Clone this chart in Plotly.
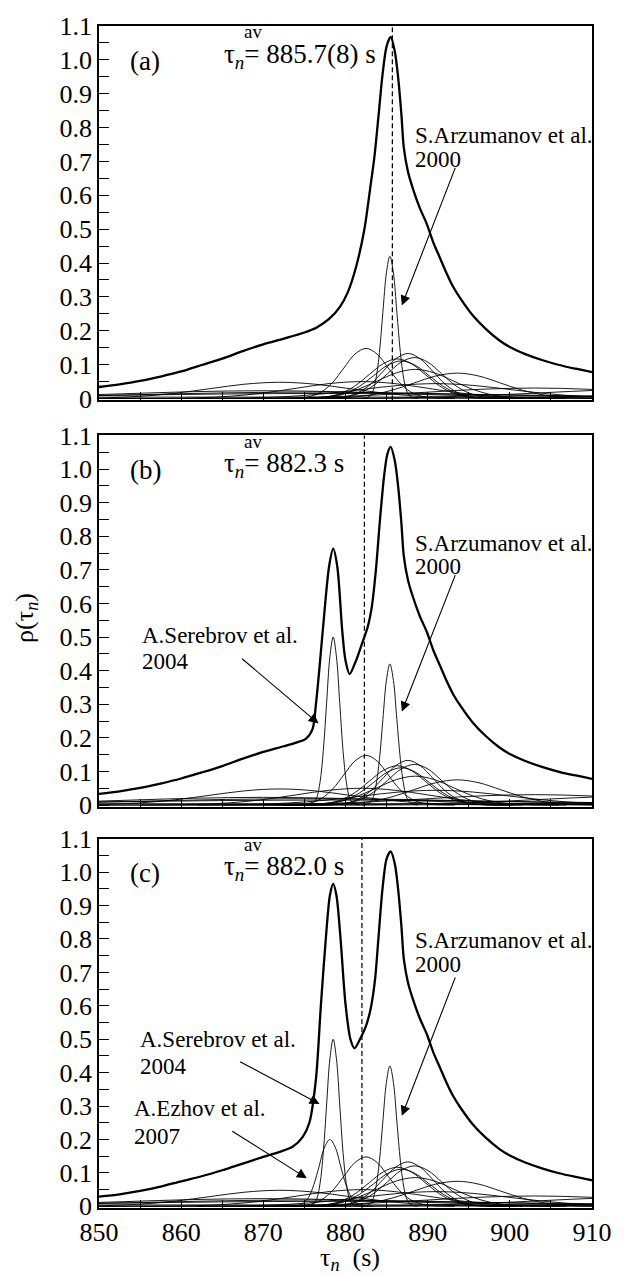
import plotly.graph_objects as go

# ---------------- data ----------------
x_tickvals = [850, 855, 860, 865, 870, 875, 880, 885, 890, 895, 900, 905, 910]
x_ticktext = ["850", "", "860", "", "870", "", "880", "", "890", "", "900", "", "910"]
y_tickvals = [0, 0.05, 0.1, 0.15, 0.2, 0.25, 0.3, 0.35, 0.4, 0.45, 0.5, 0.55,
              0.6, 0.65, 0.7, 0.75, 0.8, 0.85, 0.9, 0.95, 1.0, 1.05, 1.1]
y_ticktext = ["0", "", "0.1", "", "0.2", "", "0.3", "", "0.4", "", "0.5", "",
              "0.6", "", "0.7", "", "0.8", "", "0.9", "", "1.0", "", "1.1"]

panel_labels = ["(a)", "(b)", "(c)"]
tau_av = [885.7, 882.3, 882.0]
tau_av_text = ["885.7(8) s", "882.3 s", "882.0 s"]

# thick (summed) curves
sum_right_x = [886.0, 886.4, 886.8, 887.1, 887.6, 888.2, 889.0, 889.9, 890.7, 891.5, 892.3,
               893.1, 894.0, 895.5, 897.0, 898.7, 900.0, 901.8, 904.0, 906.0, 908.0, 910.0]
sum_right_y = [1.025, 0.95, 0.84, 0.74, 0.67, 0.62, 0.565, 0.515, 0.46, 0.415, 0.37,
               0.33, 0.295, 0.245, 0.207, 0.172, 0.152, 0.132, 0.113, 0.099, 0.088, 0.078]

sum_a_x = [850, 852.5, 855, 857.5, 860, 862.5, 865, 867.5, 870, 872.5, 875, 876.5, 878,
           879.3, 880.3, 881.3, 882.3, 883.0, 883.5, 884.0, 884.5, 885.0, 885.5]
sum_a_y = [0.034, 0.042, 0.052, 0.065, 0.080, 0.099, 0.118, 0.140, 0.160, 0.177, 0.195, 0.210, 0.235,
           0.270, 0.315, 0.390, 0.500, 0.620, 0.710, 0.830, 0.955, 1.040, 1.068]

sum_b_x = [850, 852.5, 855, 857.5, 860, 862.5, 865, 867.5, 870, 872.5, 874, 875.2, 876.0, 876.4,
           876.8, 877.4, 878.0, 878.5, 879.0, 879.6, 880.0, 880.5, 881.2, 882.0, 882.7, 883.2,
           883.7, 884.2, 884.7, 885.1, 885.5]
sum_b_y = [0.033, 0.041, 0.051, 0.064, 0.079, 0.097, 0.116, 0.138, 0.158, 0.175, 0.186, 0.198, 0.227, 0.30,
           0.40, 0.565, 0.71, 0.763, 0.71, 0.52, 0.43, 0.39, 0.425, 0.48, 0.53, 0.59,
           0.70, 0.85, 0.98, 1.045, 1.066]

sum_c_x = [850, 852.5, 855, 857.5, 860, 862.5, 865, 867.5, 870, 872, 873.6, 874.8, 875.6, 876.4,
           877.0, 877.6, 878.1, 878.5, 878.9, 879.4, 880.0, 880.6, 881.1, 881.9, 882.5, 883.1,
           883.6, 884.0, 884.5, 885.0, 885.5]
sum_c_y = [0.029, 0.036, 0.046, 0.059, 0.075, 0.090, 0.108, 0.128, 0.148, 0.163, 0.179, 0.208, 0.25, 0.38,
           0.60, 0.80, 0.93, 0.965, 0.93, 0.80, 0.605, 0.50, 0.473, 0.507, 0.54, 0.596,
           0.68, 0.80, 0.949, 1.04, 1.062]

# thin curves: individual measurements
arz_x = [882.0, 882.85, 883.28, 883.7, 884.13, 884.55, 884.98, 885.4, 885.83, 886.25, 886.68, 887.1, 887.53, 887.95, 888.8]
arz_y = [0.0, 0.005, 0.018, 0.057, 0.136, 0.255, 0.371, 0.42, 0.371, 0.255, 0.136, 0.057, 0.018, 0.005, 0.0]
ser_x = [875.3, 876.1, 876.5, 876.9, 877.3, 877.7, 878.1, 878.5, 878.9, 879.3, 879.7, 880.1, 880.5, 880.9, 881.7]
ser_y = [0.0, 0.006, 0.022, 0.068, 0.162, 0.303, 0.441, 0.5, 0.441, 0.303, 0.162, 0.068, 0.022, 0.006, 0.0]
ezh_x = [872.9, 874.2, 874.85, 875.5, 876.15, 876.8, 877.45, 878.1, 878.75, 879.4, 880.05, 880.7, 881.35, 882.0, 883.3]
ezh_y = [0.0, 0.002, 0.009, 0.027, 0.065, 0.121, 0.177, 0.2, 0.177, 0.121, 0.065, 0.027, 0.009, 0.002, 0.0]
m93_x = [871.7, 874.4, 875.75, 877.1, 878.45, 879.8, 881.15, 882.5, 883.85, 885.2, 886.55, 887.9, 889.25, 890.6, 893.3]
m93_y = [0.0, 0.0016, 0.0065, 0.020, 0.048, 0.090, 0.131, 0.148, 0.131, 0.090, 0.048, 0.020, 0.0065, 0.0016, 0.0]
m89_x = [875.6, 878.6, 880.1, 881.6, 883.1, 884.6, 886.1, 887.6, 889.1, 890.6, 892.1, 893.6, 895.1, 896.6, 899.6]
m89_y = [0.0, 0.0015, 0.0058, 0.018, 0.043, 0.081, 0.117, 0.133, 0.117, 0.081, 0.043, 0.018, 0.0058, 0.0015, 0.0]
nes_x = [875.2, 878.5, 880.15, 881.8, 883.45, 885.1, 886.75, 888.4, 890.05, 891.7, 893.35, 895.0, 896.65, 898.3, 901.6]
nes_y = [0.0, 0.0013, 0.0053, 0.0164, 0.039, 0.073, 0.107, 0.121, 0.107, 0.073, 0.039, 0.0164, 0.0053, 0.0013, 0.0]
nico_x = [872.7, 876.1, 877.8, 879.5, 881.2, 882.9, 884.6, 886.3, 888.0, 889.7, 891.4, 893.1, 894.8, 896.5, 899.9]
nico_y = [0.0, 0.0013, 0.0051, 0.0158, 0.038, 0.071, 0.103, 0.117, 0.103, 0.071, 0.038, 0.0158, 0.0051, 0.0013, 0.0]
dew_x = [873.2, 876.6, 878.3, 880.0, 881.7, 883.4, 885.1, 886.8, 888.5, 890.2, 891.9, 893.6, 895.3, 897.0, 900.4]
dew_y = [0.0, 0.0012, 0.005, 0.015, 0.036, 0.067, 0.098, 0.111, 0.098, 0.067, 0.036, 0.015, 0.005, 0.0012, 0.0]
b96_x = [870.1, 874.7, 877.0, 879.3, 881.6, 883.9, 886.2, 888.5, 890.8, 893.1, 895.4, 897.7, 900.0, 902.3, 906.9]
b96_y = [0.0, 0.001, 0.0038, 0.0116, 0.0279, 0.0522, 0.0759, 0.086, 0.0759, 0.0522, 0.0279, 0.0116, 0.0038, 0.001, 0.0]
b90_x = [872.4, 877.7, 880.35, 883.0, 885.65, 888.3, 890.95, 893.6, 896.25, 898.9, 901.55, 904.2, 906.85, 909.5, 914.8]
b90_y = [0.0, 0.0008, 0.0033, 0.0101, 0.0244, 0.0455, 0.0662, 0.075, 0.0662, 0.0455, 0.0244, 0.0101, 0.0033, 0.0008, 0.0]
spv_x = [855, 864, 868.5, 873, 877.5, 882, 886.5, 891, 895.5, 900, 904.5, 909, 913.5, 918, 927]
spv_y = [0.0, 0.0005, 0.0019, 0.006, 0.0143, 0.0267, 0.0388, 0.044, 0.0388, 0.0267, 0.0143, 0.006, 0.0019, 0.0005, 0.0]
pau_x = [838, 846.5, 850.75, 855, 859.25, 863.5, 867.75, 872, 876.25, 880.5, 884.75, 889, 893.25, 897.5, 906]
pau_y = [0.0, 0.0005, 0.0021, 0.0065, 0.0156, 0.0291, 0.0424, 0.048, 0.0424, 0.0291, 0.0156, 0.0065, 0.0021, 0.0005, 0.0]
bon_x = [850, 858, 862, 866, 870, 874, 878, 882, 886, 890, 894, 898, 902, 906, 914]
bon_y = [0.0, 0.0006, 0.0022, 0.0068, 0.0162, 0.0303, 0.0441, 0.05, 0.0441, 0.0303, 0.0162, 0.0068, 0.0022, 0.0006, 0.0]
last_x = [834, 844.5, 855, 865.5, 876, 886.5, 897, 907.5, 918]
last_y = [0.0026, 0.0062, 0.0115, 0.0168, 0.019, 0.0168, 0.0115, 0.0062, 0.0026]
kos_x = [824, 837.5, 851, 864.5, 878, 891.5, 905, 918.5, 932]
kos_y = [0.002, 0.0049, 0.0091, 0.0132, 0.015, 0.0132, 0.0091, 0.0049, 0.002]
arn_x = [836, 844.5, 853, 861.5, 870, 878.5, 887, 895.5, 904, 912.5]
arn_y = [0.0031, 0.0075, 0.014, 0.0203, 0.023, 0.0203, 0.014, 0.0075, 0.0031, 0.001]
kv86_x = [851, 857.5, 864, 870.5, 877, 883.5, 890, 896.5, 903, 909.5, 916]
kv86_y = [0.0, 0.0001, 0.0003, 0.0014, 0.0042, 0.0101, 0.0188, 0.0274, 0.031, 0.0274, 0.0188]
chr_x = [862, 869, 876, 883, 890, 897, 904, 911, 918]
chr_y = [0.0, 0.0001, 0.0003, 0.0012, 0.0038, 0.0091, 0.017, 0.0247, 0.028]
b80_x = [865, 874, 883, 892, 901, 910, 919]
b80_y = [0.0, 0.00005, 0.0002, 0.001, 0.003, 0.0071, 0.0133]
kv80_x = [840, 875, 910]
kv80_y = [0.0039, 0.0042, 0.0039]

common_thin = [(arz_x, arz_y), (m93_x, m93_y), (m89_x, m89_y), (nes_x, nes_y), (nico_x, nico_y),
               (dew_x, dew_y), (b96_x, b96_y), (b90_x, b90_y), (spv_x, spv_y), (pau_x, pau_y),
               (bon_x, bon_y), (last_x, last_y), (kos_x, kos_y), (arn_x, arn_y), (kv86_x, kv86_y),
               (chr_x, chr_y), (b80_x, b80_y), (kv80_x, kv80_y)]
panel_thin = [common_thin,
              common_thin + [(ser_x, ser_y)],
              common_thin + [(ser_x, ser_y), (ezh_x, ezh_y)]]
panel_sum = [(sum_a_x + sum_right_x, sum_a_y + sum_right_y),
             (sum_b_x + sum_right_x, sum_b_y + sum_right_y),
             (sum_c_x + sum_right_x, sum_c_y + sum_right_y)]

# ---------------- layout helpers (pixel geometry) ----------------
W, H = 624, 1275
ML, MR, MT, MB = 99, 22, 15, 67
PW, PH = W - ML - MR, H - MT - MB


def fx(px):
    return (px - ML) / PW


def fy(py):
    return (H - MB - py) / PH


panel_px = [(15, 392.7), (428.3, 803.0), (835.3, 1208)]
FONT = "Liberation Serif"

fig = go.Figure()
for i in range(3):
    xa = "x" if i == 0 else f"x{i+1}"
    ya = "y" if i == 0 else f"y{i+1}"
    for tx, ty in panel_thin[i]:
        fig.add_trace(go.Scatter(x=tx, y=ty, mode="lines", xaxis=xa, yaxis=ya,
                                 line=dict(color="black", width=0.9, shape="spline", smoothing=1.0),
                                 showlegend=False, hoverinfo="skip"))
    sx, sy = panel_sum[i]
    fig.add_trace(go.Scatter(x=sx, y=sy, mode="lines", xaxis=xa, yaxis=ya,
                             line=dict(color="black", width=2.3, shape="spline", smoothing=0.8),
                             showlegend=False, hoverinfo="skip"))
    fig.add_shape(type="line", xref=xa, yref=f"{ya} domain", x0=tau_av[i], x1=tau_av[i],
                  y0=0, y1=1, line=dict(color="black", width=1.2, dash="5px,3px"))

tickfont = dict(family=FONT, size=26, color="black")
layout = dict(width=W, height=H, margin=dict(l=ML, r=MR, t=MT, b=MB),
              paper_bgcolor="white", plot_bgcolor="white", showlegend=False,
              font=dict(family=FONT, color="black"))
for i in range(3):
    top, bot = panel_px[i]
    xk = "xaxis" if i == 0 else f"xaxis{i+1}"
    yk = "yaxis" if i == 0 else f"yaxis{i+1}"
    ya = "y" if i == 0 else f"y{i+1}"
    xa = "x" if i == 0 else f"x{i+1}"
    layout[xk] = dict(domain=[0, 1], anchor=ya, range=[850, 910], tickmode="array",
                      tickvals=x_tickvals, ticktext=x_ticktext, showticklabels=(i == 2),
                      ticks="inside", ticklen=8, tickwidth=1, tickcolor="black",
                      showline=True, mirror=True, linewidth=1.6, linecolor="black",
                      showgrid=False, zeroline=False, tickfont=tickfont)
    layout[yk] = dict(domain=[fy(bot), fy(top)], anchor=xa, range=[-0.005, 1.1], tickmode="array",
                      tickvals=y_tickvals, ticktext=y_ticktext,
                      ticks="inside", ticklen=10, tickwidth=1, tickcolor="black",
                      showline=True, mirror=True, linewidth=1.6, linecolor="black",
                      showgrid=False, zeroline=False, tickfont=tickfont)
fig.update_layout(**layout)

ann = []


def text(px, py, s, size, xanchor="left"):
    ann.append(dict(x=fx(px), y=fy(py), xref="paper", yref="paper", text=s, showarrow=False,
                    xanchor=xanchor, yanchor="middle", font=dict(family=FONT, size=size, color="black")))


def arrow(tail, head):
    ann.append(dict(x=fx(head[0]), y=fy(head[1]), xref="paper", yref="paper", text="",
                    showarrow=True, ax=tail[0] - head[0], ay=tail[1] - head[1],
                    arrowhead=2, arrowsize=1.8, arrowwidth=1.1, arrowcolor="black", standoff=0))


for i in range(3):
    off = panel_px[i][0] - 15
    text(146, 50 + off, panel_labels[i], 27, xanchor="center")
    text(224, 45 + off, "τ<sub><i>n</i></sub>= " + tau_av_text[i], 27)
    text(245, 21 + off, "av", 19)

# Arzumanov labels
for off, (tail, head) in zip([0, 411, 812],
                             [((462, 158), (408, 297)), ((462, 569), (408, 707)), ((462, 975), (408, 1115))]):
    text(419, 126 + off, "S.Arzumanov et al.", 23)
    text(419, 150 + off, "2000", 23)
    arrow(tail, head)

# Serebrov (b)
text(141, 630, "A.Serebrov et al.", 23)
text(141, 656, "2004", 23)
arrow((245, 653), (323, 719))
# Serebrov (c)
text(139, 1038, "A.Serebrov et al.", 23)
text(139, 1065, "2004", 23)
arrow((243, 1060), (324, 1103))
# Ezhov (c)
text(133, 1108, "A.Ezhov et al.", 23)
text(133, 1136, "2007", 23)
arrow((235, 1130), (311, 1178))

# axis titles
ann.append(dict(x=fx(25), y=fy(612), xref="paper", yref="paper", text="ρ(τ<sub><i>n</i></sub>)",
                showarrow=False, textangle=-90, xanchor="center", yanchor="middle",
                font=dict(family=FONT, size=26, color="black")))
text(355, 1259, "τ<sub><i>n</i></sub>\u00a0\u00a0(s)", 26, xanchor="center")

fig.update_layout(annotations=ann)
fig.write_html("out.html")
